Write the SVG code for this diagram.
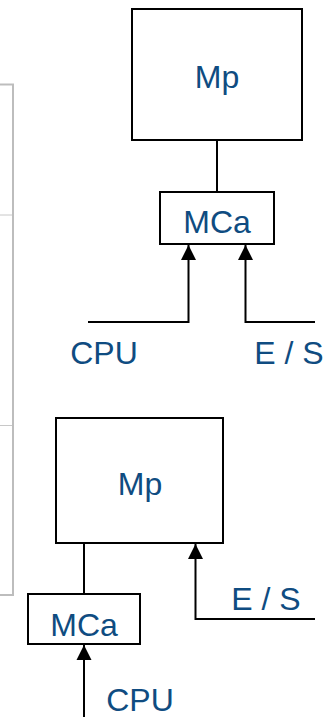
<svg xmlns="http://www.w3.org/2000/svg" width="327" height="717" viewBox="0 0 327 717">
<style>
.box{fill:#fff;stroke:#000;stroke-width:2}
.lbl{font-family:"Liberation Sans",Arial,sans-serif;font-size:32px;fill:#0f4c81;text-anchor:middle}
.wire{fill:none;stroke:#000;stroke-width:2}
.frame{fill:none;stroke:#bdbdbd;stroke-width:2}
.rule{fill:none;stroke:#c8c8c8;stroke-width:1}
</style>
<defs>
<marker id="ah" markerUnits="userSpaceOnUse" markerWidth="16" markerHeight="16" viewBox="0 0 16 16" refX="15" refY="8" orient="auto">
<path d="M0,0.5 L15,8 L0,15.5 Z" fill="#000"/>
</marker>
</defs>
<g id="frame">
<path class="frame" d="M0,84.5 H13 V595 H0"/>
<path class="rule" d="M0,215 H12 M0,425.5 H12"/>
</g>
<g id="connectors">
<path class="wire" d="M217,140 V192"/>
<path class="wire" d="M88,322 H188.5 V245" marker-end="url(#ah)"/>
<path class="wire" d="M315,322 H245.5 V245" marker-end="url(#ah)"/>
<path class="wire" d="M84,543 V594"/>
<path class="wire" d="M84,717 V645" marker-end="url(#ah)"/>
<path class="wire" d="M315,619 H195.5 V544" marker-end="url(#ah)"/>
</g>
<g id="mp1">
<rect class="box" x="132" y="9" width="170" height="131"/>
<text class="lbl" x="217" y="88">Mp</text>
</g>
<g id="mca1">
<rect class="box" x="160" y="192" width="114" height="52"/>
<text class="lbl" x="217" y="233">MCa</text>
</g>
<g id="cpu1">
<text class="lbl" x="104" y="364">CPU</text>
</g>
<g id="es1">
<text class="lbl" x="289" y="364">E / S</text>
</g>
<g id="mp2">
<rect class="box" x="56" y="418" width="167" height="125"/>
<text class="lbl" x="140" y="495">Mp</text>
</g>
<g id="mca2">
<rect class="box" x="28" y="594" width="112" height="50"/>
<text class="lbl" x="84" y="636">MCa</text>
</g>
<g id="es2">
<text class="lbl" x="266" y="610">E / S</text>
</g>
<g id="cpu2">
<text class="lbl" x="140" y="711">CPU</text>
</g>
</svg>
